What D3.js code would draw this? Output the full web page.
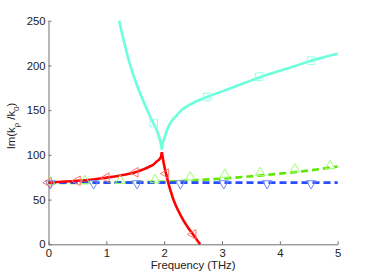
<!DOCTYPE html>
<html>
<head>
<meta charset="utf-8">
<script src="https://cdn.jsdelivr.net/npm/d3@7/dist/d3.min.js"></script>
<style>
  html, body { margin: 0; padding: 0; background: #fff; }
  svg { display: block; font-family: "Liberation Sans", Arial, sans-serif; }
</style>
</head>
<body>
<div id="chart"></div>
<script>
/* Im(k_rho / k_0) against frequency */

const xTicks = [0, 1, 2, 3, 4, 5]
const yTicks = [0, 50, 100, 150, 200, 250]

// cyan branch coming down from the top to the cusp
const cyanLeftFreq = [1.22, 1.30, 1.40, 1.50, 1.60, 1.70, 1.80, 1.87, 1.92, 1.95, 1.96]
const cyanLeftVal  = [250, 228, 203, 183, 166, 151, 137, 128, 118, 110, 106]
// cyan branch rising from the cusp to the right
const cyanRightFreq = [1.96, 1.98, 2.01, 2.05, 2.10, 2.20, 2.30, 2.50, 2.75, 3.00, 3.25, 3.50, 3.75, 4.00, 4.25, 4.50, 4.75, 5.00]
const cyanRightVal  = [106, 114, 120, 128, 135, 143, 150, 158, 165, 171, 177, 183, 189, 194, 199, 204.5, 209, 213]
const cyanMarkFreq = [1.82, 2.74, 3.64, 4.54]
const cyanMarkVal  = [135.6, 164.7, 187.4, 205.3]

// red branch rising from the left to the cusp
const redLeftFreq = [0, 0.5, 1.0, 1.25, 1.5, 1.65, 1.75, 1.81, 1.87, 1.93, 1.95, 1.96]
const redLeftVal  = [69, 71, 74.5, 77, 80.5, 84, 87, 89, 92.5, 96, 99, 103]
// red branch falling from the cusp to zero
const redDownFreq = [1.96, 1.98, 2.00, 2.02, 2.04, 2.07, 2.11, 2.16, 2.24, 2.33, 2.42, 2.50, 2.56, 2.62]
const redDownVal  = [103, 95, 88, 82, 77, 69, 60, 50, 38, 27, 18, 11, 5.5, 0]
const redMarkFreq = [0, 0.5, 1.0, 1.5, 2.03, 2.5]
const redMarkVal  = [69, 71, 74.5, 80.5, 79, 11]

// green dashed
const greenFreq = [0, 0.5, 1, 1.5, 2, 2.5, 3, 3.5, 4, 4.5, 5]
const greenVal  = [68.5, 68.5, 69, 69.5, 70, 71.5, 73.5, 76, 79, 82.5, 87]
const greenMarkFreq = [0.03, 0.63, 1.24, 1.84, 2.45, 3.05, 3.66, 4.26, 4.87]
const greenMarkVal  = [69.7, 71, 71, 72, 75, 78, 80, 84, 87.6]

// blue dashed
const blueFreq = [0, 1, 2, 3, 4, 5]
const blueVal  = [69, 69, 69, 69, 69, 69]
const blueMarkFreq = [0.03, 0.78, 1.53, 2.28, 3.03, 3.78, 4.54]
const blueMarkVal  = [68, 68, 68, 68, 68, 68, 68]

const width = 374
const height = 275
const margin = { top: 20.7, right: 36.3, bottom: 30.7, left: 48.5 }

const zip = (xs, ys) => xs.map((x, i) => [x, ys[i]])

const svg = d3.select('#chart')
  .append('svg')
  .attr('width', width)
  .attr('height', height)

const x = d3.scaleLinear().domain([0, 5]).range([margin.left, width - margin.right])
const y = d3.scaleLinear().domain([0, 250]).range([height - margin.bottom, margin.top])

const axisColor = '#6f6f6f'

// axes, matlab style: ticks pointing in
const xAxis = svg.append('g')
  .attr('transform', `translate(0,${y(0)})`)
  .call(d3.axisBottom(x).tickValues(xTicks).tickFormat(d3.format('d'))
    .tickSizeInner(-3).tickSizeOuter(0).tickPadding(5))
const yAxis = svg.append('g')
  .attr('transform', `translate(${x(0)},0)`)
  .call(d3.axisLeft(y).tickValues(yTicks).tickFormat(d3.format('d'))
    .tickSizeInner(-3).tickSizeOuter(0).tickPadding(3))

for (let ax of [xAxis, yAxis]) {
  ax.select('.domain').attr('stroke', axisColor).attr('stroke-width', 1)
  ax.selectAll('.tick line').attr('stroke', axisColor)
  ax.selectAll('.tick text')
    .attr('fill', '#222')
    .style('font-size', '11.3px')
    .style('font-family', '"Liberation Sans", Arial, sans-serif')
}

svg.append('text')
  .attr('x', (x(0) + x(5)) / 2)
  .attr('y', 269)
  .attr('text-anchor', 'middle')
  .attr('fill', '#222')
  .style('font-size', '11.3px')
  .text('Frequency (THz)')

let ylab = svg.append('text')
  .attr('transform', 'translate(15,126) rotate(-90)')
  .attr('text-anchor', 'middle')
  .attr('fill', '#222')
  .style('font-size', '11.3px')
ylab.append('tspan').text('Im(k')
ylab.append('tspan').attr('dy', 3.5).style('font-size', '8px').text('ρ')
ylab.append('tspan').attr('dy', -3.5).text(' /k')
ylab.append('tspan').attr('dy', 3.5).style('font-size', '8px').text('0')
ylab.append('tspan').attr('dy', -3.5).text(')')

const line = d3.line()
  .x(d => x(d[0]))
  .y(d => y(d[1]))
  .curve(d3.curveMonotoneX)

function drawLine (pts, color, dashed) {
  svg.append('path')
    .datum(pts)
    .attr('d', line)
    .attr('fill', 'none')
    .attr('stroke', color)
    .attr('stroke-width', 2.6)
    .attr('stroke-dasharray', dashed ? '7,4' : null)
}

function drawMarks (pts, symbolType, rotate, size, color) {
  svg.append('g')
    .selectAll('path')
    .data(pts)
    .join('path')
    .attr('d', d3.symbol().type(symbolType).size(size))
    .attr('transform', d => `translate(${x(d[0])},${y(d[1])}) rotate(${rotate})`)
    .attr('fill', 'none')
    .attr('stroke', color)
    .attr('stroke-width', 1)
}

drawLine(zip(greenFreq, greenVal), '#5ee800', true)
drawLine(zip(blueFreq, blueVal), '#2a4dff', true)
drawLine(zip(cyanLeftFreq, cyanLeftVal), '#6cffdc', false)
drawLine(zip(cyanRightFreq, cyanRightVal), '#6cffdc', false)
drawLine(zip(redLeftFreq, redLeftVal), '#ff0000', false)
drawLine(zip(redDownFreq, redDownVal), '#ff0000', false)

drawMarks(zip(greenMarkFreq, greenMarkVal), d3.symbolTriangle, 0, 40, '#9cff6a')
drawMarks(zip(blueMarkFreq, blueMarkVal), d3.symbolTriangle, 180, 40, '#7088ff')
drawMarks(zip(redMarkFreq, redMarkVal), d3.symbolTriangle, -90, 40, '#ff7070')
drawMarks(zip(cyanMarkFreq, cyanMarkVal), d3.symbolSquare, 0, 56, '#96ffe8')
</script>
</body>
</html>
